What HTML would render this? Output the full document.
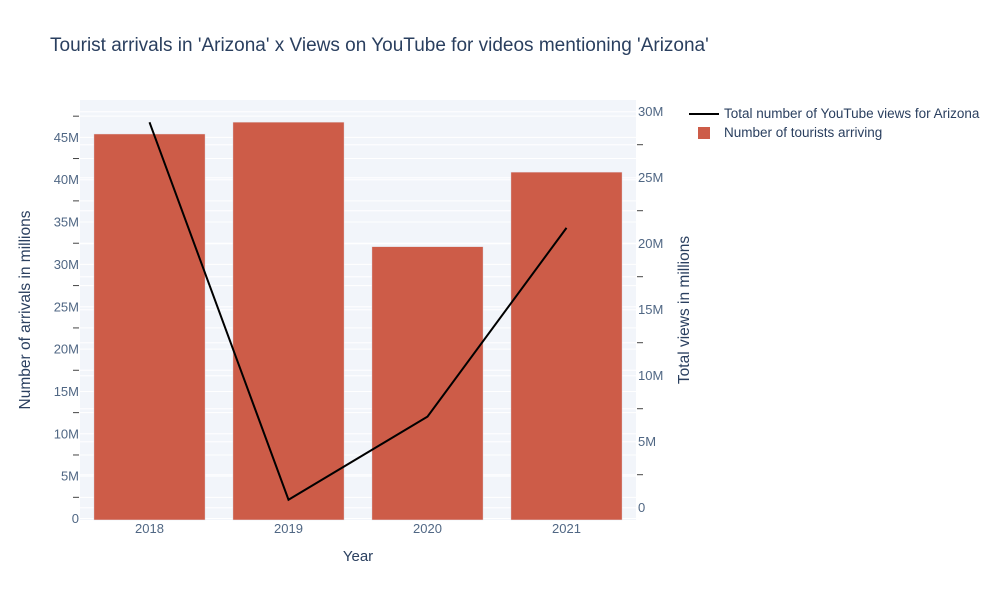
<!DOCTYPE html>
<html><head><meta charset="utf-8"><style>
body{margin:0;background:#fff;font-family:"Liberation Sans",Arial,sans-serif}
svg text{font-family:"Liberation Sans",Arial,sans-serif}
</style></head><body>
<svg id="c" width="1000" height="600" xmlns="http://www.w3.org/2000/svg">
<rect width="1000" height="600" fill="#fff"/>
<text x="50" y="51" font-size="19" fill="#2a3f5f">Tourist arrivals in 'Arizona' x Views on YouTube for videos mentioning 'Arizona'</text>
<rect x="80" y="100" width="556" height="420" fill="#e5ecf6" opacity="0.5"/>
<g id="grid"></g><g id="bars"></g><g id="line"></g><g id="axes"></g>
<text x="358" y="561" font-size="15" fill="#2a3f5f" text-anchor="middle">Year</text>
<text transform="translate(30,310) rotate(-90)" font-size="15.5" fill="#2a3f5f" text-anchor="middle">Number of arrivals in millions</text>
<text transform="translate(689,310) rotate(-90)" font-size="15.5" fill="#2a3f5f" text-anchor="middle">Total views in millions</text>
<g>
<g><line x1="689" y1="114" x2="719" y2="114" stroke="#000" stroke-width="2"/><text x="724" y="118" font-size="13.5" fill="#2a3f5f">Total number of YouTube views for Arizona</text></g>
<g><rect x="698" y="127" width="12" height="12" fill="#cd5c48"/><text x="724" y="137" font-size="13.5" fill="#2a3f5f">Number of tourists arriving</text></g>
</g>
</svg>
<script>
const categories=["2018","2019","2020","2021"];
const tourists=[45.4,46.8,32.1,40.9];
const views=[29.2,0.6,6.9,21.2];
const leftTicks=[0,5,10,15,20,25,30,35,40,45];
const rightTicks=[0,5,10,15,20,25,30];
const NS="http://www.w3.org/2000/svg";
const x0=80,x1=636,step=(x1-x0)/categories.length;
const xc=i=>x0+step*(i+0.5);
const yL=v=>518.5-v*8.47;
const yR=v=>507.7-v*13.2;
function mk(t,a,p){const e=document.createElementNS(NS,t);for(const k in a)e.setAttribute(k,a[k]);p.appendChild(e);return e;}
const grid=document.getElementById('grid'),bars=document.getElementById('bars'),line=document.getElementById('line'),axes=document.getElementById('axes');
for(let v=0;v<=47.5;v+=2.5){const y=yL(v);const g=mk('line',{x1:x0,x2:x1,y1:y,y2:y,stroke:'#fff','stroke-width':1},grid);

if(v%5!==0){const t=mk('line',{x1:73,x2:79,y1:y,y2:y,stroke:'#444','stroke-width':1},axes);}}
for(let v=0;v<=30;v+=2.5){const y=yR(v);const g=mk('line',{x1:x0,x2:x1,y1:y,y2:y,stroke:'#fff','stroke-width':1},grid);

if(v%5!==0){const t=mk('line',{x1:637,x2:643,y1:y,y2:y,stroke:'#444','stroke-width':1},axes);}}
leftTicks.forEach(v=>{const t=mk('text',{x:79,y:yL(v)+4.5,'font-size':13,fill:'#506784','text-anchor':'end'},axes);t.textContent=v===0?'0':v+'M';
});
rightTicks.forEach(v=>{const t=mk('text',{x:638,y:yR(v)+4.5,'font-size':13,fill:'#506784'},axes);t.textContent=v===0?'0':v+'M';
});
categories.forEach((c,i)=>{const t=mk('text',{x:xc(i),y:533,'font-size':13,fill:'#506784','text-anchor':'middle'},axes);t.textContent=c;

const bw=step*0.8;const b=mk('rect',{x:xc(i)-bw/2,y:yL(tourists[i]),width:bw,height:yL(0)-yL(tourists[i])+1.5,fill:'#cd5c48',stroke:'#e5ecf6','stroke-width':0.5},bars);
});
const pl=mk('polyline',{points:views.map((v,i)=>xc(i)+','+yR(v)).join(' '),fill:'none',stroke:'#000','stroke-width':2},line);

</script>
</body></html>
